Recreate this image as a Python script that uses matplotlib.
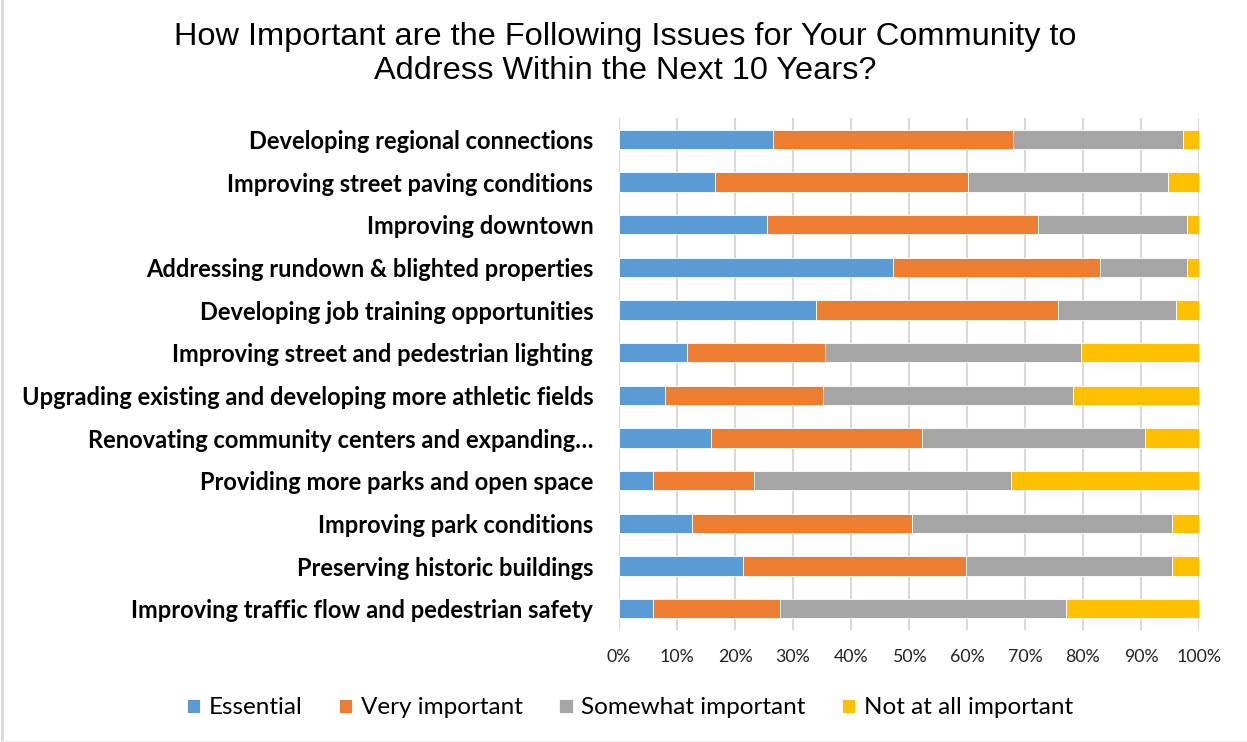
import numpy as np
import matplotlib.pyplot as plt
from matplotlib.lines import Line2D

issues = [
    "Developing regional connections",
    "Improving street paving conditions",
    "Improving downtown",
    "Addressing rundown & blighted properties",
    "Developing job training opportunities",
    "Improving street and pedestrian lighting",
    "Upgrading existing and developing more athletic fields",
    "Renovating community centers and expanding\u2026",
    "Providing more parks and open space",
    "Improving park conditions",
    "Preserving historic buildings",
    "Improving traffic flow and pedestrian safety",
]

essential = [26.6, 16.5, 25.6, 47.3, 33.9, 11.8, 7.9, 15.9, 5.9, 12.5, 21.3, 5.9]
very_important = [41.4, 43.7, 46.7, 35.7, 41.8, 23.7, 27.2, 36.4, 17.3, 38.1, 38.6, 21.8]
somewhat_important = [29.3, 34.5, 25.7, 15.0, 20.4, 44.1, 43.1, 38.4, 44.4, 44.8, 35.5, 49.3]
not_important = [2.7, 5.3, 2.0, 2.0, 3.9, 20.4, 21.8, 9.3, 32.4, 4.6, 4.6, 23.0]

series_names = ["Essential", "Very important", "Somewhat important", "Not at all important"]
colors = ["#5b9bd5", "#ed7d31", "#a5a5a5", "#ffc000"]

W, H = 1247, 742
fig = plt.figure(figsize=(W / 100, H / 100), dpi=100)
ax = fig.add_axes([619 / W, 1 - 630 / H, 580 / W, 512 / H])

y = np.arange(len(issues))
left = np.zeros(len(issues))
for vals, name, c in zip([essential, very_important, somewhat_important, not_important],
                         series_names, colors):
    vals = np.array(vals)
    ax.barh(y, vals, left=left, height=0.45, color=c, label=name,
            edgecolor="white", linewidth=0.6, zorder=3)
    left += vals

ax.set_xlim(0, 100)
ax.set_ylim(len(issues) - 0.5, -0.5)
ax.set_xticks(np.arange(0, 101, 10))
ax.set_xticklabels([f"{v}%" for v in range(0, 101, 10)],
                   fontsize=12.8, family="Lato", color="#222222")
ax.set_yticks(y)
ax.set_yticklabels(issues, fontsize=17, family="Lato", fontweight="bold")
ax.tick_params(axis="both", length=0)
ax.tick_params(axis="y", pad=18.5)
ax.tick_params(axis="x", pad=14)
ax.grid(axis="x", color="#d9d9d9", linewidth=1.5, zorder=0)
for s in ax.spines.values():
    s.set_visible(False)

fig.text(625 / W, 1 - 54 / H, "How Important are the Following Issues for Your Community to\n"
         "Address Within the Next 10 Years?", ha="center", va="center",
         fontsize=23.4, family="Liberation Sans", linespacing=1.17)

leg = fig.legend(loc="center", bbox_to_anchor=(630 / W, 1 - 708 / H), ncol=4,
                 frameon=False, prop={"family": "Lato", "size": 17.5},
                 handlelength=0.55, handleheight=0.55, handletextpad=0.35,
                 columnspacing=1.5)

# thin frame lines on the left and bottom of the chart area
fig.add_artist(Line2D([2 / W, 2 / W], [1 / H, 1], transform=fig.transFigure,
                      color="#d9d9d9", linewidth=2))
fig.add_artist(Line2D([2 / W, 1], [1.5 / H, 1.5 / H], transform=fig.transFigure,
                      color="#eeeeee", linewidth=1))

fig.savefig("out.png", dpi=100)
